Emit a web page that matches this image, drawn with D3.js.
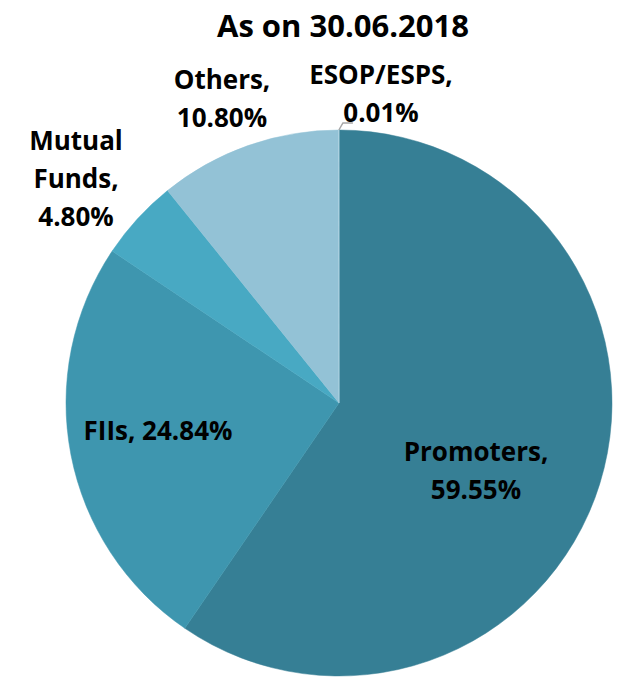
<html>
<head>
<meta charset="utf-8">
<style>
body{margin:0;background:#fff;}
text{font-family:"Open Sans",Lato,sans-serif;font-weight:bold;fill:#000;}
</style>
</head>
<body>
<script src="https://cdn.jsdelivr.net/npm/d3@7"></script>
<script>
var width = 620, height = 678;
var categories = ["Promoters", "FIIs", "Mutual Funds", "Others", "ESOP/ESPS"];
var shares = [59.55, 24.84, 4.80, 10.80, 0.01];
var colors = ["#367f95", "#3e96af", "#48a9c3", "#93c2d6", "#b9d8e6"];
// label lines and anchor points (picture coords)
var labelLines = [["Promoters,", "59.55%"], ["FIIs, 24.84%"], ["Mutual", "Funds,", "4.80%"], ["Others,", "10.80%"], ["ESOP/ESPS,", "0.01%"]];
var labelPos = [[476, 461], [158, 440], [76, 150], [222, 89], [381, 84]];

var svg = d3.select("body").append("svg")
    .attr("width", width)
    .attr("height", height);

var cx = 339, cy = 403, r = 273;
var data = categories.map((c, i) => ({name: c, value: shares[i], color: colors[i]}));

var pie = d3.pie().value(d => d.value).sort(null);
var arc = d3.arc().innerRadius(0).outerRadius(r);

var g = svg.append("g").attr("transform", "translate(" + cx + "," + cy + ")");
g.selectAll("path")
    .data(pie(data))
    .join("path")
    .attr("d", arc)
    .attr("fill", d => d.data.color)
    .attr("stroke", d => d.data.color)
    .attr("stroke-width", 0.5);

// leader line for the tiny slice
var esop = pie(data)[4];
var a = (esop.startAngle + esop.endAngle) / 2;
var p0 = [cx + Math.sin(a) * r, cy - Math.cos(a) * r];
svg.append("path")
    .attr("d", "M" + p0[0] + "," + (p0[1]) + "L" + (p0[0] + 4) + "," + (p0[1] - 7) + "L" + (p0[0] + 14) + "," + (p0[1] - 7))
    .attr("fill", "none")
    .attr("stroke", "#a6a6a6")
    .attr("stroke-width", 1.5);

svg.append("text")
    .attr("x", 343).attr("y", 37)
    .attr("text-anchor", "middle")
    .style("font-size", "31px")
    .text("As on 30.06.2018");

labelLines.forEach(function(lines, i) {
    var t = svg.append("text")
        .attr("text-anchor", "middle")
        .style("font-size", "26px");
    lines.forEach(function(s, j) {
        t.append("tspan")
            .attr("x", labelPos[i][0])
            .attr("y", labelPos[i][1] + j * 38)
            .text(s);
    });
});
</script>
</body>
</html>
